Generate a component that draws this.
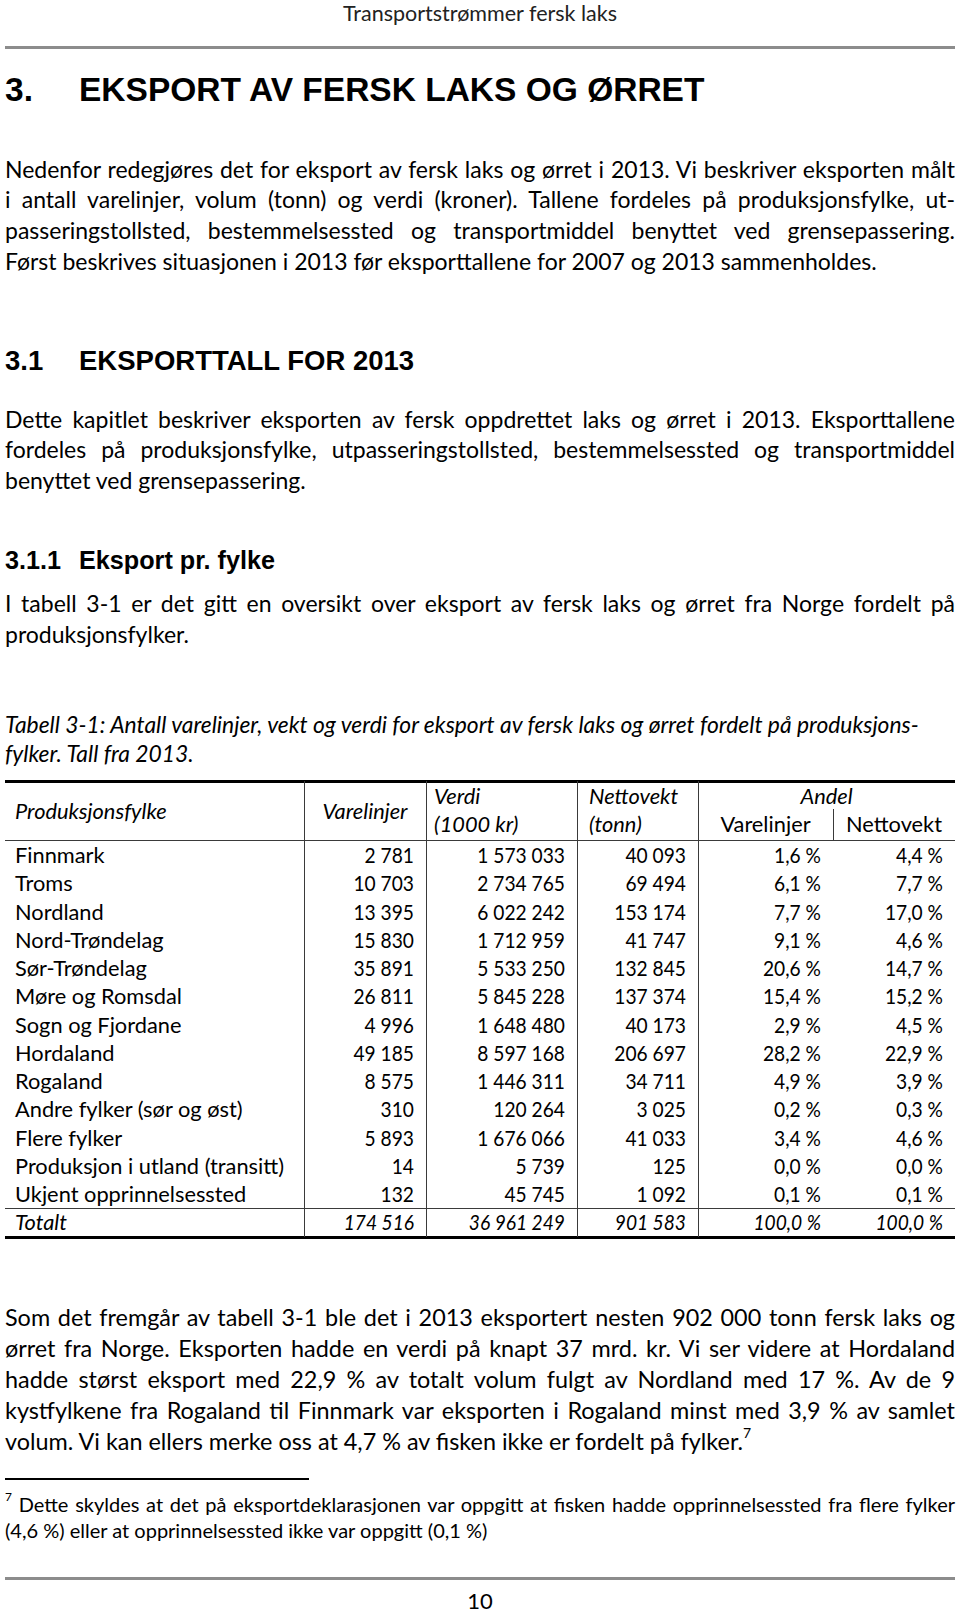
import React, { useLayoutEffect, useRef, useState } from 'react';

// table 3-1: eksport av fersk laks og ørret per produksjonsfylke, 2013
const fylker = [
  'Finnmark',
  'Troms',
  'Nordland',
  'Nord-Trøndelag',
  'Sør-Trøndelag',
  'Møre og Romsdal',
  'Sogn og Fjordane',
  'Hordaland',
  'Rogaland',
  'Andre fylker (sør og øst)',
  'Flere fylker',
  'Produksjon i utland (transitt)',
  'Ukjent opprinnelsessted',
];
const varelinjer = [2781, 10703, 13395, 15830, 35891, 26811, 4996, 49185, 8575, 310, 5893, 14, 132];
const verdi = [1573033, 2734765, 6022242, 1712959, 5533250, 5845228, 1648480, 8597168, 1446311, 120264, 1676066, 5739, 45745];
const nettovekt = [40093, 69494, 153174, 41747, 132845, 137374, 40173, 206697, 34711, 3025, 41033, 125, 1092];
const andelVarelinjer = [1.6, 6.1, 7.7, 9.1, 20.6, 15.4, 2.9, 28.2, 4.9, 0.2, 3.4, 0.0, 0.1];
const andelNettovekt = [4.4, 7.7, 17.0, 4.6, 14.7, 15.2, 4.5, 22.9, 3.9, 0.3, 4.6, 0.0, 0.1];
const totalt = { label: 'Totalt', varelinjer: 174516, verdi: 36961249, nettovekt: 901583, andelV: 100.0, andelN: 100.0 };

const para1 = [
  'Nedenfor redegjøres det for eksport av fersk laks og ørret i 2013. Vi beskriver eksporten målt',
  'i antall varelinjer, volum (tonn) og verdi (kroner). Tallene fordeles på produksjonsfylke, ut-',
  'passeringstollsted, bestemmelsessted og transportmiddel benyttet ved grensepassering.',
  'Først beskrives situasjonen i 2013 før eksporttallene for 2007 og 2013 sammenholdes.',
];
const para2 = [
  'Dette kapitlet beskriver eksporten av fersk oppdrettet laks og ørret i 2013. Eksporttallene',
  'fordeles på produksjonsfylke, utpasseringstollsted, bestemmelsessted og transportmiddel',
  'benyttet ved grensepassering.',
];
const para3 = [
  'I tabell 3-1 er det gitt en oversikt over eksport av fersk laks og ørret fra Norge fordelt på',
  'produksjonsfylker.',
];
const caption = [
  'Tabell 3-1: Antall varelinjer, vekt og verdi for eksport av fersk laks og ørret fordelt på produksjons-',
  'fylker. Tall fra 2013.',
];
const para4 = [
  'Som det fremgår av tabell 3-1 ble det i 2013 eksportert nesten 902 000 tonn fersk laks og',
  'ørret fra Norge. Eksporten hadde en verdi på knapt 37 mrd. kr. Vi ser videre at Hordaland',
  'hadde størst eksport med 22,9 % av totalt volum fulgt av Nordland med 17 %. Av de 9',
  'kystfylkene fra Rogaland til Finnmark var eksporten i Rogaland minst med 3,9 % av samlet',
  'volum. Vi kan ellers merke oss at 4,7 % av fisken ikke er fordelt på fylker.',
];
const footnote = [
  'Dette skyldes at det på eksportdeklarasjonen var oppgitt at fisken hadde opprinnelsessted fra flere fylker',
  '(4,6 %) eller at opprinnelsessted ikke var oppgitt (0,1 %)',
];

const BODY = "Lato, 'Noto Sans', sans-serif";
const HEAD = "'Liberation Sans', Arial, sans-serif";
const TEXT_W = 950;

const fmtNum = (n: number) => String(n).replace(/\B(?=(\d{3})+(?!\d))/g, '\u00a0');
const fmtPct = (n: number) => n.toFixed(1).replace('.', ',') + '\u00a0%';

// one line stretched to the full text width by adjusting word spacing
function JustLine({ text, pre }: { text: string; pre?: React.ReactNode }) {
  const ref = useRef<HTMLSpanElement>(null);
  const [ws, setWs] = useState(0);
  useLayoutEffect(() => {
    const el = ref.current;
    if (!el) return;
    const w = el.getBoundingClientRect().width;
    const spaces = (text.match(/ /g) || []).length + (pre ? 1 : 0);
    if (spaces) setWs((TEXT_W - w) / spaces);
  }, [text]);
  return (
    <span ref={ref} style={{ wordSpacing: ws, whiteSpace: 'nowrap' }}>
      {pre}{pre ? ' ' : null}{text}
    </span>
  );
}

function Lines({ lines, top, step, size, justify, italic, supStart, supEnd }: {
  lines: string[]; top: number; step: number; size: number; justify?: boolean; italic?: boolean; supStart?: string; supEnd?: string;
}) {
  const supStyle: React.CSSProperties = { fontSize: size * 0.6, verticalAlign: 'top', position: 'relative', top: -size * 0.35 };
  return (
    <>
      {lines.map((t, i) => {
        const last = i === lines.length - 1;
        const pre = supStart && i === 0 ? <span style={supStyle}>{supStart}</span> : undefined;
        return (
          <div
            key={i}
            style={{
              position: 'absolute',
              left: 5,
              width: TEXT_W + 40,
              top: top + i * step - step / 2,
              height: step,
              lineHeight: step + 'px',
              fontSize: size,
              fontStyle: italic ? 'italic' : 'normal',
              whiteSpace: 'nowrap',
            }}
          >
            {justify && !last ? (
              <JustLine text={t} pre={pre} />
            ) : (
              <>
                {pre}{pre ? ' ' : null}{t}
                {supEnd && last ? <span style={supStyle}>{supEnd}</span> : null}
              </>
            )}
          </div>
        );
      })}
    </>
  );
}

// table layout
const colEdges = [5, 304, 426, 577, 698, 833, 955];
const tableTop = 781;
const firstRowY = 855;
const rowStep = 28.25;

function Cell({ x0, x1, y, text, align, italic, num }: {
  x0: number; x1: number; y: number; text: string; align: 'left' | 'right' | 'center'; italic?: boolean; num?: boolean;
}) {
  const padL = align === 'left' ? 10 : 0;
  const padR = align === 'right' ? 12 : 0;
  return (
    <div
      style={{
        position: 'absolute',
        left: x0 + padL,
        width: x1 - x0 - padL - padR,
        top: y - 14,
        height: 28,
        lineHeight: '28px',
        fontSize: 21.8,
        fontStyle: italic ? 'italic' : 'normal',
        textAlign: align,
        whiteSpace: 'nowrap',
        transform: num ? 'scaleX(0.88)' : undefined,
        transformOrigin: 'right center',
      }}
    >
      {text}
    </div>
  );
}

function Table() {
  const rows = fylker.map((f, i) => ({
    label: f,
    cells: [fmtNum(varelinjer[i]), fmtNum(verdi[i]), fmtNum(nettovekt[i]), fmtPct(andelVarelinjer[i]), fmtPct(andelNettovekt[i])],
  }));
  const totY = firstRowY + fylker.length * rowStep;
  const bottom = 1237;
  const line = '#3a3a3a';
  return (
    <>
      <div style={{ position: 'absolute', left: 5, width: 950, top: tableTop - 1.5, height: 3, background: '#000' }} />
      <div style={{ position: 'absolute', left: 5, width: 950, top: 840, height: 1, background: line }} />
      <div style={{ position: 'absolute', left: 5, width: 950, top: 1208, height: 1, background: line }} />
      <div style={{ position: 'absolute', left: 5, width: 950, top: bottom - 1.5, height: 3, background: '#000' }} />
      {colEdges.slice(1, 5).map((x, i) => (
        <div key={i} style={{ position: 'absolute', left: x, width: 1, top: tableTop, height: bottom - tableTop, background: line }} />
      ))}
      <div style={{ position: 'absolute', left: colEdges[5], width: 1, top: 809, height: 840 - 809, background: line }} />

      <Cell x0={colEdges[0]} x1={colEdges[1]} y={811} text="Produksjonsfylke" align="left" italic />
      <Cell x0={colEdges[1]} x1={colEdges[2]} y={811} text="Varelinjer" align="center" italic />
      <Cell x0={colEdges[2] - 2} x1={colEdges[3]} y={796} text="Verdi" align="left" italic />
      <Cell x0={colEdges[2] - 2} x1={colEdges[3]} y={824} text="(1000 kr)" align="left" italic />
      <Cell x0={colEdges[3] + 2} x1={colEdges[4]} y={796} text="Nettovekt" align="left" italic />
      <Cell x0={colEdges[3] + 2} x1={colEdges[4]} y={824} text="(tonn)" align="left" italic />
      <Cell x0={colEdges[4]} x1={colEdges[6]} y={796} text="Andel" align="center" italic />
      <Cell x0={colEdges[4]} x1={colEdges[5]} y={824} text="Varelinjer" align="center" />
      <Cell x0={colEdges[5]} x1={colEdges[6]} y={824} text="Nettovekt" align="center" />

      {rows.map((r, i) => {
        const y = firstRowY + i * rowStep;
        return (
          <React.Fragment key={r.label}>
            <Cell x0={colEdges[0]} x1={colEdges[1]} y={y} text={r.label} align="left" />
            {r.cells.map((c, j) => (
              <Cell key={j} x0={colEdges[j + 1]} x1={colEdges[j + 2]} y={y} text={c} align="right" num />
            ))}
          </React.Fragment>
        );
      })}
      <Cell x0={colEdges[0]} x1={colEdges[1]} y={totY} text={totalt.label} align="left" italic />
      {[fmtNum(totalt.varelinjer), fmtNum(totalt.verdi), fmtNum(totalt.nettovekt), fmtPct(totalt.andelV), fmtPct(totalt.andelN)].map((c, j) => (
        <Cell key={j} x0={colEdges[j + 1]} x1={colEdges[j + 2]} y={totY} text={c} align="right" italic num />
      ))}
    </>
  );
}

export default function App() {
  return (
    <div
      style={{
        position: 'absolute',
        left: 0,
        top: 0,
        width: 960,
        height: 1613,
        background: '#fff',
        color: '#000',
        fontFamily: BODY,
        overflow: 'hidden',
      }}
    >
      <div style={{ position: 'absolute', left: 0, width: 960, top: 0, height: 26, lineHeight: '26px', textAlign: 'center', fontSize: 21.5, color: '#222' }}>
        Transportstrømmer fersk laks
      </div>
      <div style={{ position: 'absolute', left: 5, width: 950, top: 46, height: 3, background: '#8c8c8c' }} />

      <div style={{ position: 'absolute', left: 5, top: 70, height: 40, lineHeight: '40px', fontFamily: HEAD, fontWeight: 'bold', fontSize: 33.5 }}>3.</div>
      <div style={{ position: 'absolute', left: 79, top: 70, height: 40, lineHeight: '40px', fontFamily: HEAD, fontWeight: 'bold', fontSize: 33.5, whiteSpace: 'nowrap' }}>
        EKSPORT AV FERSK LAKS OG ØRRET
      </div>

      <Lines lines={para1} top={169} step={30.7} size={23} justify />

      <div style={{ position: 'absolute', left: 5, top: 345, height: 32, lineHeight: '32px', fontFamily: HEAD, fontWeight: 'bold', fontSize: 27.5 }}>3.1</div>
      <div style={{ position: 'absolute', left: 79, top: 345, height: 32, lineHeight: '32px', fontFamily: HEAD, fontWeight: 'bold', fontSize: 27.5, whiteSpace: 'nowrap' }}>
        EKSPORTTALL FOR 2013
      </div>

      <Lines lines={para2} top={419} step={30.8} size={23} justify />

      <div style={{ position: 'absolute', left: 5, top: 546, height: 28, lineHeight: '28px', fontFamily: HEAD, fontWeight: 'bold', fontSize: 25.2 }}>3.1.1</div>
      <div style={{ position: 'absolute', left: 79, top: 546, height: 28, lineHeight: '28px', fontFamily: HEAD, fontWeight: 'bold', fontSize: 25.2, whiteSpace: 'nowrap' }}>
        Eksport pr. fylke
      </div>

      <Lines lines={para3} top={603} step={31} size={23} justify />

      <Lines lines={caption} top={724} step={29} size={22.85} italic />

      <Table />

      <Lines lines={para4} top={1317} step={31} size={23.4} justify supEnd="7" />

      <div style={{ position: 'absolute', left: 5, width: 304, top: 1478, height: 2, background: '#000' }} />
      <Lines lines={footnote} top={1504} step={26} size={20} justify supStart="7" />

      <div style={{ position: 'absolute', left: 5, width: 950, top: 1577, height: 3, background: '#8c8c8c' }} />
      <div style={{ position: 'absolute', left: 0, width: 960, top: 1590, height: 22, lineHeight: '22px', textAlign: 'center', fontSize: 22 }}>10</div>
    </div>
  );
}
